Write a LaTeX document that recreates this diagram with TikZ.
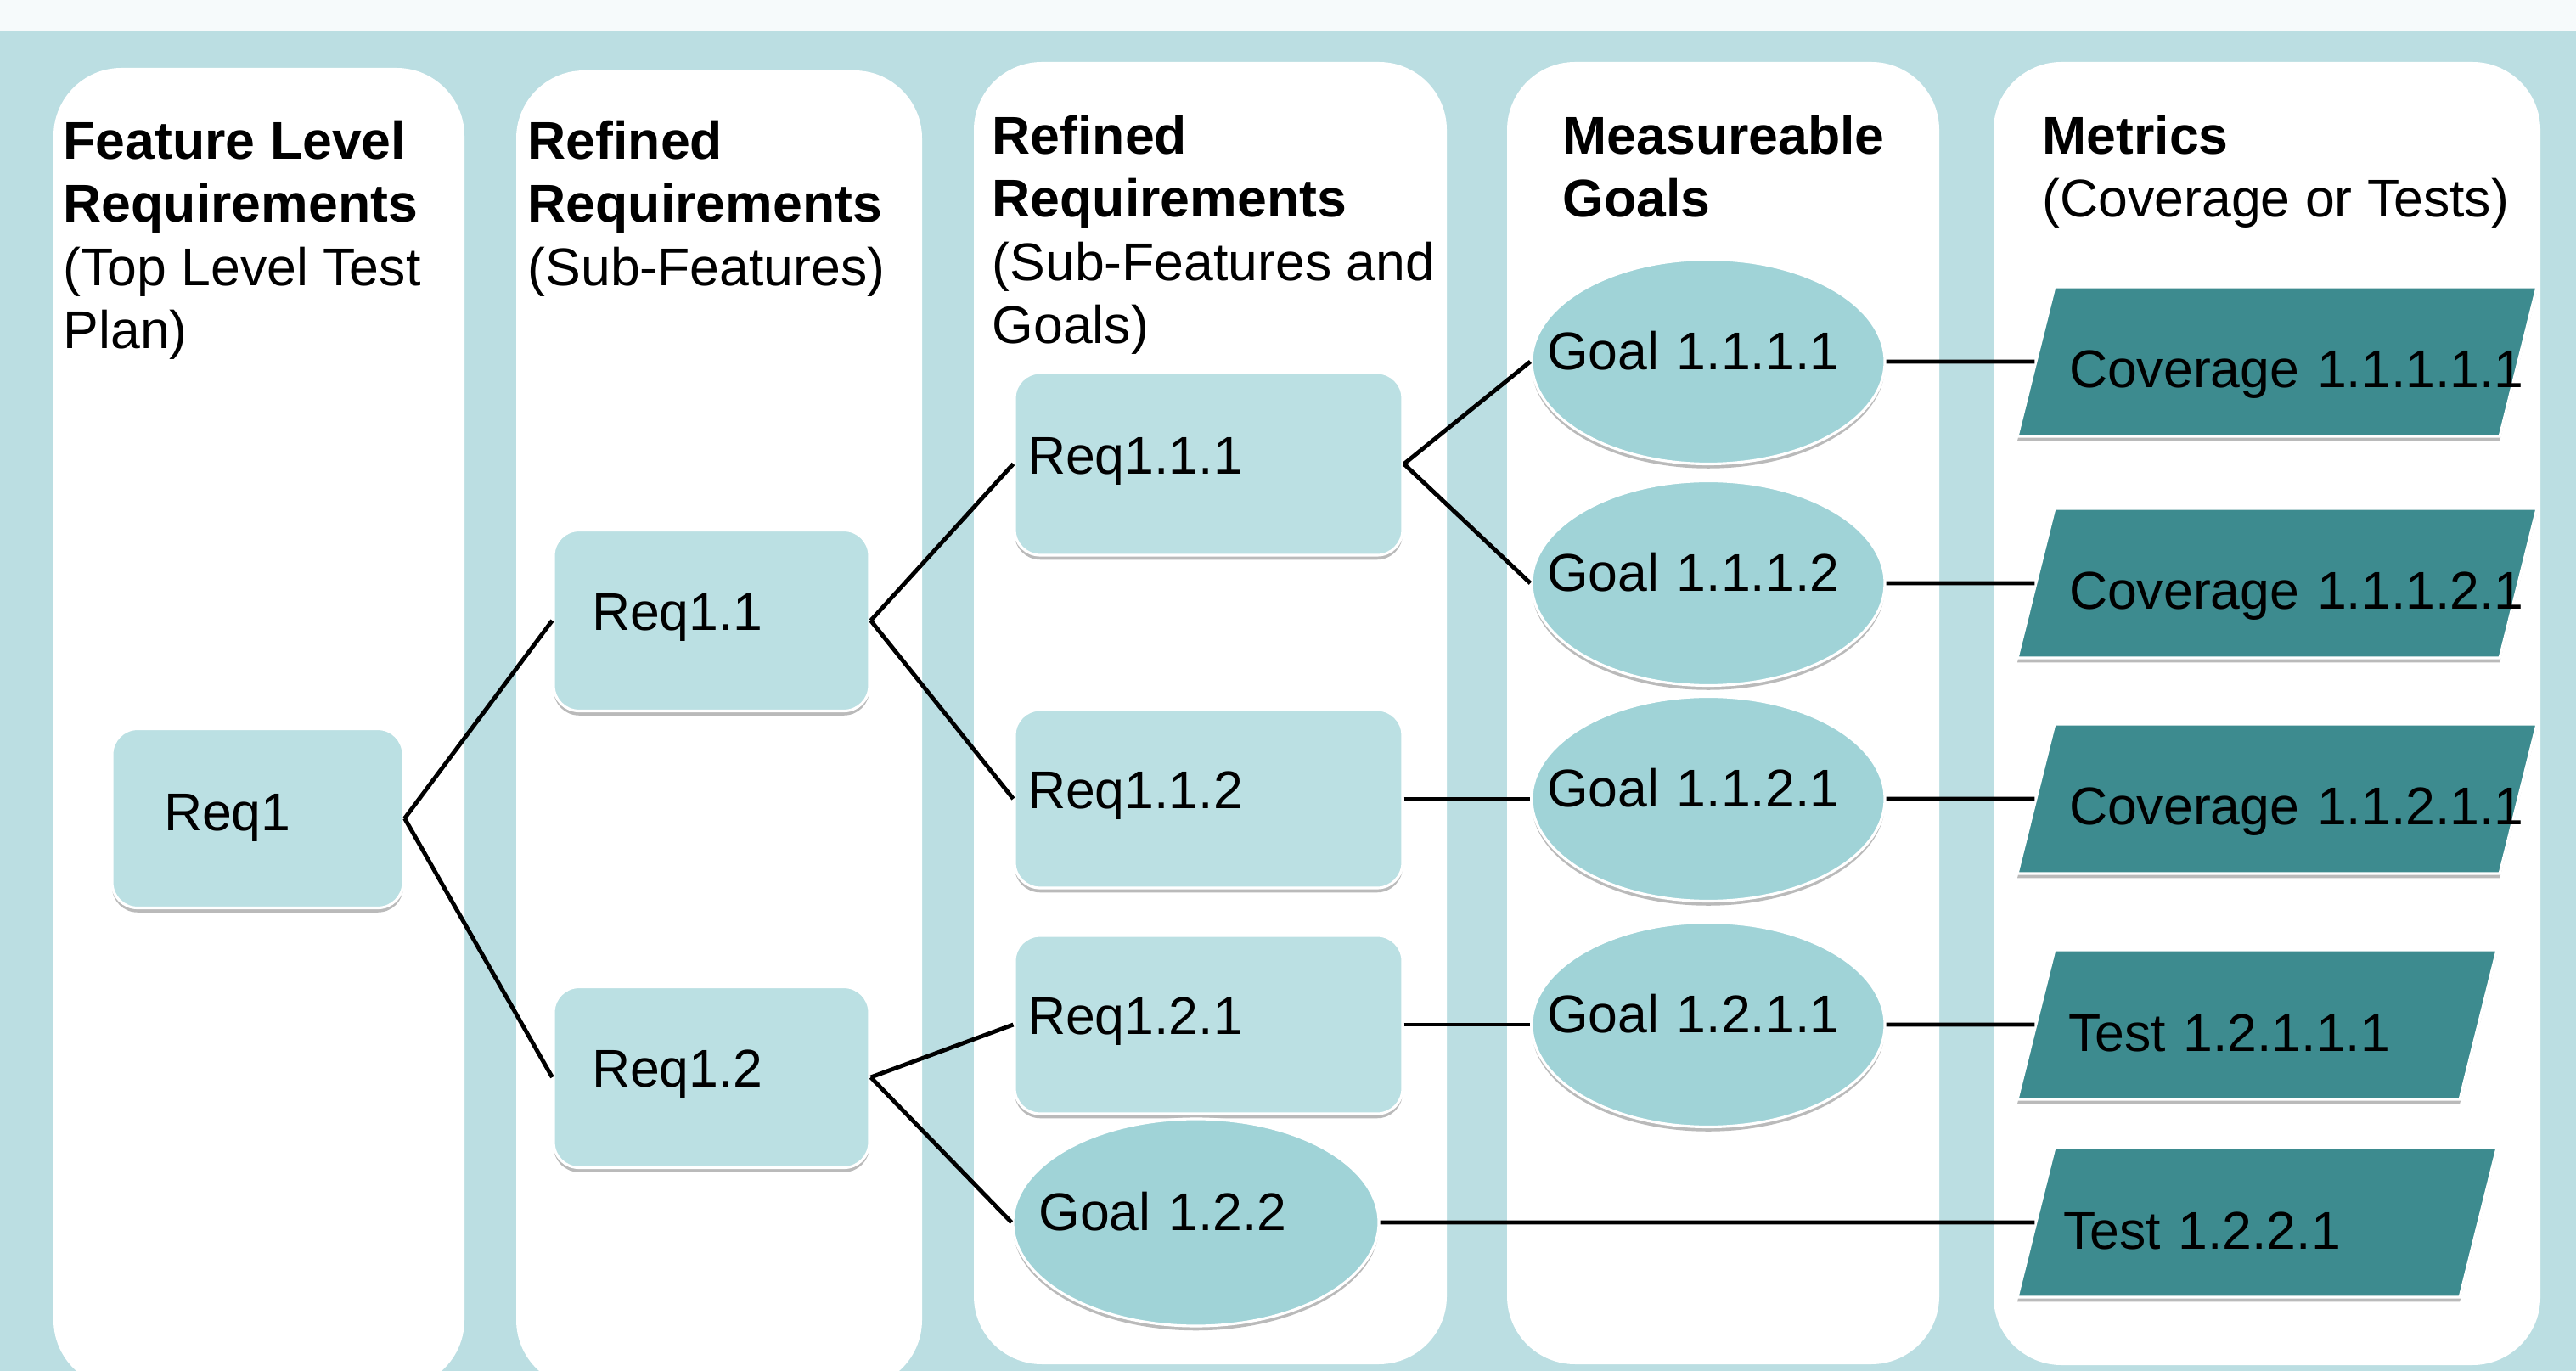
\documentclass[tikz,border=0pt]{standalone}
\usepackage{fontspec}
\setmainfont{Liberation Sans}
\usetikzlibrary{shapes.geometric, shadows}
\definecolor{bandcolor}{RGB}{246,250,251}
\definecolor{backcolor}{RGB}{187,222,226}
\definecolor{reqcolor}{RGB}{187,224,227}
\definecolor{goalcolor}{RGB}{160,211,215}
\definecolor{metriccolor}{RGB}{61,139,143}
\newcommand{\diagfont}{\fontsize{17.8}{21.2}\selectfont}

\begin{document}
\begin{tikzpicture}[
    y=-1cm,
    column/.style={fill=white, rounded corners=0.8cm},
    heading/.style={anchor=north west, align=left, inner sep=0pt, font=\diagfont},
    boxshadow/.style={drop shadow={shadow xshift=0pt, shadow yshift=-1.5pt, fill=black!60, opacity=0.45}},
    reqbox/.style={rectangle, rounded corners=0.3cm, draw=white, line width=0.9pt, fill=reqcolor, inner sep=0pt, align=left, text height=0.86em, text depth=0.18em, font=\diagfont, boxshadow},
    goal/.style={ellipse, draw=white, line width=0.9pt, fill=goalcolor, inner ysep=0pt, inner xsep=-0.5cm, minimum width=4.16cm, minimum height=2.41cm, text width=3.8cm, align=left, text height=0.76em, text depth=0.24em, font=\diagfont, boxshadow},
    metric/.style={trapezium, trapezium left angle=76, trapezium right angle=104, trapezium stretches body=true, draw=white, line width=0.9pt, fill=metriccolor, inner sep=0pt, align=left, text height=1.19cm, text depth=0.57cm, font=\diagfont, boxshadow},
    link/.style={line width=1.4pt, black}
]
    \useasboundingbox (0,0) rectangle (30.34,16.15);

    % Background and columns
    \fill[bandcolor] (0,0) rectangle (30.34,0.37);
    \fill[backcolor] (0,0.37) rectangle (30.34,16.15);
    \fill[column] (0.63,0.80) rectangle (5.47,16.35);
    \fill[column] (6.08,0.83) rectangle (10.86,16.35);
    \fill[column] (11.47,0.73) rectangle (17.04,16.07);
    \fill[column] (17.75,0.73) rectangle (22.84,16.07);
    \fill[column] (23.48,0.73) rectangle (29.92,16.08);

    % Column headings
    \node[heading] (head1) at (0.74,1.41) {\textbf{Feature Level}\\\textbf{Requirements}\\(Top Level Test\\Plan)};
    \node[heading] (head2) at (6.21,1.41) {\textbf{Refined}\\\textbf{Requirements}\\(Sub-Features)};
    \node[heading] (head3) at (11.68,1.35) {\textbf{Refined}\\\textbf{Requirements}\\(Sub-Features and\\Goals)};
    \node[heading] (head4) at (18.40,1.35) {\textbf{Measureable}\\\textbf{Goals}};
    \node[heading] (head5) at (24.05,1.35) {\textbf{Metrics}\\(Coverage or Tests)};

    % Requirements
    \node[reqbox, minimum width=3.43cm, minimum height=2.11cm, text width=2.21cm, text depth=0.05em] (req1) at (3.035,9.64) {Req1};
    \node[reqbox, minimum width=3.72cm, minimum height=2.13cm, text width=2.82cm] (req11) at (8.38,7.31) {Req1.1};
    \node[reqbox, minimum width=3.72cm, minimum height=2.13cm, text width=2.82cm] (req12) at (8.38,12.69) {Req1.2};
    \node[reqbox, minimum width=4.57cm, minimum height=2.15cm, text width=4.27cm] (req111) at (14.235,5.465) {Req1.1.1};
    \node[reqbox, minimum width=4.57cm, minimum height=2.10cm, text width=4.27cm] (req112) at (14.235,9.41) {Req1.1.2};
    \node[reqbox, minimum width=4.57cm, minimum height=2.10cm, text width=4.27cm] (req121) at (14.235,12.07) {Req1.2.1};
    \node[goal, minimum width=4.31cm, minimum height=2.44cm, text width=3.7cm] (goal122) at (14.085,14.40) {Goal 1.2.2};

    % Measureable goals
    \node[goal] (goal1111) at (20.12,4.26) {Goal 1.1.1.1};
    \node[goal] (goal1112) at (20.12,6.87) {Goal 1.1.1.2};
    \node[goal] (goal1121) at (20.12,9.41) {Goal 1.1.2.1};
    \node[goal] (goal1211) at (20.12,12.07) {Goal 1.2.1.1};

    % Metrics
    \node[metric, minimum width=6.12cm, text width=4.9cm] (cov11111) at (26.82,4.26) {Coverage~1.1.1.1.1};
    \node[metric, minimum width=6.12cm, text width=4.9cm] (cov11121) at (26.82,6.87) {Coverage~1.1.1.2.1};
    \node[metric, minimum width=6.12cm, text width=4.9cm] (cov11211) at (26.82,9.41) {Coverage~1.1.2.1.1};
    \node[metric, minimum width=5.65cm, text width=4.45cm] (test12111) at (26.585,12.07) {Test 1.2.1.1.1};
    \node[metric, minimum width=5.65cm, text width=4.57cm] (test1221) at (26.585,14.40) {Test 1.2.2.1};

    % Tree links
    \draw[link] (req1.east) -- (req11.west);
    \draw[link] (req1.east) -- (req12.west);
    \draw[link] (req11.east) -- (req111.west);
    \draw[link] (req11.east) -- (req112.west);
    \draw[link] (req12.east) -- (req121.west);
    \draw[link] (req12.east) -- (goal122.west);
    \draw[link] (req111.east) -- (goal1111.west);
    \draw[link] (req111.east) -- (goal1112.west);
    \draw[link] (req112) -- (goal1121);
    \draw[link] (req121) -- (goal1211);

    % Goal to metric links
    \draw[link] (goal1111) -- (cov11111);
    \draw[link] (goal1112) -- (cov11121);
    \draw[link] (goal1121) -- (cov11211);
    \draw[link] (goal1211) -- (test12111);
    \draw[link] (goal122) -- (test1221);
\end{tikzpicture}
\end{document}
